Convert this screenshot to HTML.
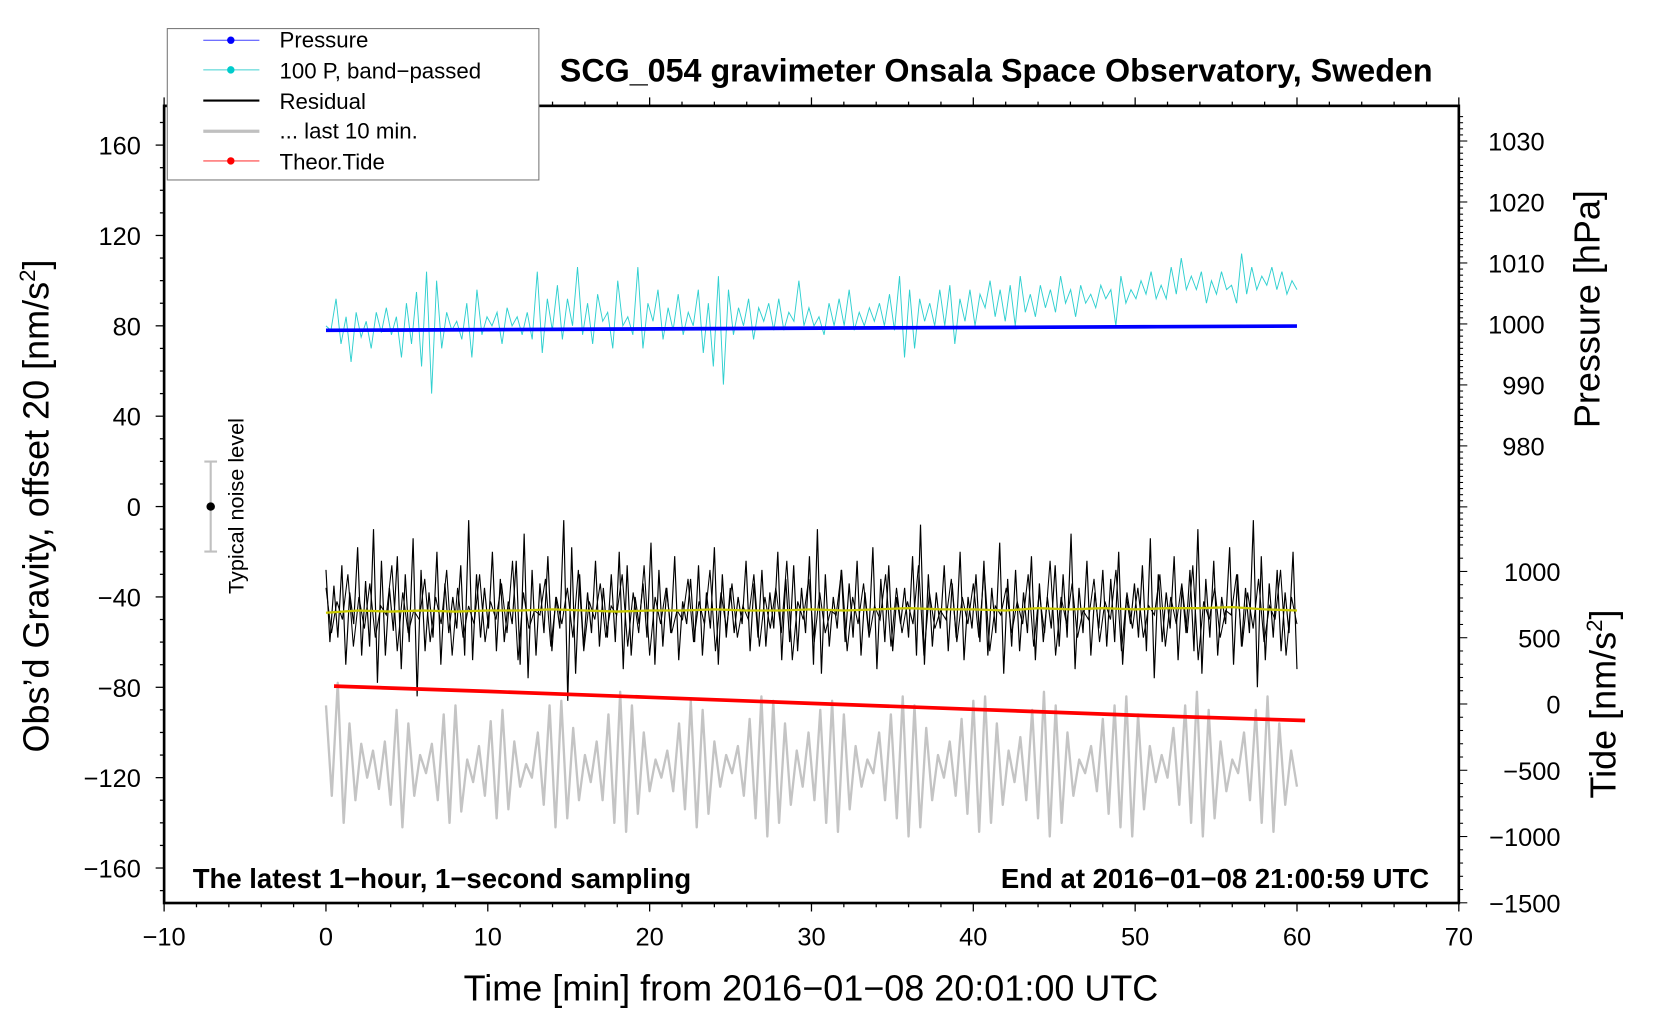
<!DOCTYPE html>
<html><head><meta charset="utf-8"><title>SCG_054 gravimeter</title>
<style>html,body{margin:0;padding:0;background:#fff}svg{display:block}text{font-family:"Liberation Sans",sans-serif}</style>
</head><body>
<svg id="chart" width="1660" height="1020" viewBox="0 0 1568 963.5" xmlns="http://www.w3.org/2000/svg">
<g id="marks"></g>
<g id="axes"></g>
<rect x="158" y="27" width="351" height="143" fill="#fff" stroke="#777" stroke-width="1"/>
<g font-size="21">
 <g><line x1="192" y1="38" x2="245" y2="38" stroke="#4040ff" stroke-width="1"/><circle cx="218" cy="38" r="3.5" fill="#00f"/><text x="264" y="45">Pressure</text></g>
 <g><line x1="192" y1="66" x2="245" y2="66" stroke="#40d0d0" stroke-width="1"/><circle cx="218" cy="66" r="3.5" fill="#0cc"/><text x="264" y="74">100 P, band−passed</text></g>
 <g><line x1="192" y1="95" x2="245" y2="95" stroke="#000" stroke-width="2"/><text x="264" y="103">Residual</text></g>
 <g><line x1="192" y1="124" x2="245" y2="124" stroke="#c0c0c0" stroke-width="3"/><text x="264" y="131">... last 10 min.</text></g>
 <g><line x1="192" y1="152" x2="245" y2="152" stroke="#ff4040" stroke-width="1"/><circle cx="218" cy="152" r="3.5" fill="#f00"/><text x="264" y="160">Theor.Tide</text></g>
</g>
<text x="941" y="77" font-size="30.5" font-weight="bold" text-anchor="middle">SCG_054 gravimeter Onsala Space Observatory, Sweden</text>
<text x="182" y="839" font-size="26" font-weight="bold">The latest 1−hour, 1−second sampling</text>
<text x="1350" y="839" font-size="26" font-weight="bold" text-anchor="end">End at 2016−01−08 21:00:59 UTC</text>
<text x="766" y="945" font-size="34" text-anchor="middle">Time [min] from 2016−01−08 20:01:00 UTC</text>
<text transform="translate(46,478) rotate(-90)" font-size="34" text-anchor="middle">Obs’d Gravity, offset 20 [nm/s<tspan font-size="21" dy="-13">2</tspan><tspan dy="13">]</tspan></text>
<text transform="translate(1511,292) rotate(-90)" font-size="34" text-anchor="middle">Pressure [hPa]</text>
<text transform="translate(1526,665) rotate(-90)" font-size="34" text-anchor="middle">Tide [nm/s<tspan font-size="21" dy="-13">2</tspan><tspan dy="13">]</tspan></text>
<g>
 <line x1="199" y1="436" x2="199" y2="521" stroke="#c0c0c0" stroke-width="2"/>
 <line x1="193" y1="436" x2="205" y2="436" stroke="#c0c0c0" stroke-width="2"/>
 <line x1="193" y1="521" x2="205" y2="521" stroke="#c0c0c0" stroke-width="2"/>
 <circle cx="199" cy="478.5" r="4" fill="#000"/>
 <text transform="translate(230,478) rotate(-90)" font-size="20.5" text-anchor="middle">Typical noise level</text>
</g>
</svg>
<script>
// ---- data ----
const xTicks=[-10,0,10,20,30,40,50,60,70];
const yTicks=[160,120,80,40,0,-40,-80,-120,-160];
const pTicks=[1030,1020,1010,1000,990,980];
const tideTicks=[1000,500,0,-500,-1000,-1500];
const timeStart=0, timeEnd=60;
const pressureHPa=[998.95,999.05,999.15,999.25,999.35,999.45,999.55,999.65];
const bandPassed=[80,78,92,72,84,64,86,75,82,70,86,77,88,76,84,66,90,72,95,62,104,50,100,70,86,78,82,74,90,66,96,76,84,80,86,72,88,80,84,76,86,74,104,68,92,78,98,74,92,80,106,76,90,72,94,82,86,70,100,80,84,76,106,70,90,82,96,74,88,78,94,76,86,80,96,68,90,62,102,54,96,76,88,80,92,74,88,82,90,78,92,78,86,82,100,80,88,80,84,76,90,80,92,80,96,78,86,80,88,82,90,80,94,78,102,66,96,70,92,82,90,80,96,80,98,72,92,82,96,80,94,88,100,84,96,82,98,80,102,86,94,84,98,88,96,86,102,90,96,84,98,90,94,88,98,92,96,80,102,90,96,92,100,94,104,92,98,92,106,94,110,96,102,96,104,90,100,94,104,96,98,90,112,94,106,96,102,98,106,96,104,94,100,96];
const residual=[-28,-60,-35,-58,-26,-70,-38,-52,-18,-66,-33,-62,-10,-78,-24,-66,-36,-55,-22,-72,-30,-60,-14,-84,-28,-64,-38,-58,-20,-70,-34,-56,-40,-54,-26,-66,-6,-68,-30,-58,-36,-54,-20,-64,-32,-60,-42,-52,-24,-70,-12,-76,-28,-66,-34,-56,-22,-64,-40,-54,-6,-86,-18,-74,-30,-62,-38,-56,-24,-62,-36,-58,-30,-60,-20,-72,-26,-66,-40,-52,-34,-58,-16,-70,-28,-62,-36,-56,-22,-68,-42,-52,-32,-60,-26,-66,-38,-54,-18,-70,-30,-58,-36,-56,-40,-52,-24,-64,-34,-58,-28,-62,-38,-54,-20,-68,-32,-60,-26,-64,-36,-56,-22,-70,-10,-74,-30,-62,-40,-54,-28,-60,-34,-58,-24,-66,-38,-56,-18,-72,-32,-60,-26,-64,-40,-52,-36,-58,-22,-66,-8,-70,-30,-62,-38,-54,-26,-64,-34,-58,-20,-68,-40,-54,-30,-60,-24,-66,-36,-56,-16,-74,-32,-62,-28,-64,-38,-56,-22,-68,-34,-60,-40,-54,-26,-62,-30,-58,-12,-72,-36,-56,-24,-66,-38,-54,-28,-62,-32,-60,-20,-70,-40,-52,-34,-58,-26,-64,-14,-76,-30,-60,-38,-54,-22,-68,-36,-56,-28,-64,-10,-74,-32,-58,-24,-66,-40,-52,-18,-70,-30,-62,-36,-56,-6,-80,-22,-68,-34,-58,-28,-64,-38,-56,-20,-72];
const residualFine=[-36,-56,-42,-50,-30,-62,-40,-54,-34,-58,-44,-48,-26,-64,-38,-56,-46,-50,-32,-60,-40,-52,-28,-66,-36,-58,-44,-52,-30,-60,-42,-50,-34,-56,-24,-68,-38,-54,-46,-48,-32,-62,-40,-52,-36,-58,-28,-64,-42,-50,-34,-58,-44,-48,-30,-62,-38,-56,-26,-66,-40,-52,-36,-56,-46,-50,-32,-60,-42,-52,-28,-64,-38,-54,-34,-58,-44,-50,-30,-62,-40,-54,-36,-56,-24,-68,-42,-50,-32,-60,-38,-56,-46,-48,-28,-64,-40,-52,-34,-58,-44,-50,-30,-62,-36,-56,-42,-52,-26,-66,-38,-54,-46,-50,-32,-60,-40,-52,-34,-58,-28,-64,-44,-48,-36,-56,-42,-52,-30,-62,-38,-56,-24,-66,-40,-52,-34,-58,-46,-50,-32,-60,-42,-50,-28,-64,-38,-54,-36,-58,-44,-48,-30,-62,-40,-52,-34,-56,-26,-68,-42,-50,-36,-58,-46,-48,-30,-62,-38,-54,-32,-60,-44,-50,-28,-66,-40,-52];
const residualSmooth=[-47,-46,-46.5,-46,-46.5,-46,-46,-45.5,-46,-46.5,-46,-46,-45.5,-46,-46,-45.5,-46,-45.5,-45,-45.5,-45.5,-46,-45,-45.5,-45,-45.5,-45,-45,-44.5,-45.5,-46];
const lastTenMin=[-88,-128,-78,-140,-96,-130,-105,-120,-108,-125,-104,-132,-90,-142,-96,-128,-110,-118,-105,-130,-92,-140,-88,-135,-112,-122,-106,-128,-95,-138,-90,-134,-104,-124,-114,-120,-100,-132,-88,-142,-86,-138,-98,-130,-110,-122,-104,-130,-92,-140,-82,-144,-88,-136,-100,-126,-112,-120,-108,-126,-96,-134,-86,-142,-90,-136,-104,-124,-110,-118,-106,-128,-94,-138,-84,-146,-86,-140,-96,-132,-108,-124,-100,-130,-90,-140,-86,-144,-92,-134,-106,-124,-112,-118,-100,-130,-92,-138,-84,-146,-88,-142,-98,-130,-110,-120,-104,-128,-94,-136,-86,-144,-84,-140,-96,-132,-108,-122,-102,-130,-90,-138,-82,-146,-88,-140,-100,-128,-112,-118,-106,-126,-94,-136,-88,-142,-84,-146,-92,-134,-106,-122,-110,-120,-98,-132,-88,-140,-82,-146,-90,-138,-104,-126,-112,-118,-100,-130,-90,-140,-84,-144,-96,-132,-108,-124];
const tideT=[0.5,10,20,30,40,50,60.5];
const tideVal=[135,95,50,5,-40,-85,-125];

// ---- scales ----
const X0=155,X1=1378,Y0=100,Y1=853;
const xs=t=>X0+(t+10)/80*(X1-X0);
const ys=v=>478.5-v*2.134;
const ps=p=>306-(p-1000)*5.76;
const ts=v=>665-v*0.1252;
const NS="http://www.w3.org/2000/svg";
const marks=document.getElementById('marks'), axes=document.getElementById('axes');
function mk(tag,attrs,parent){const e=document.createElementNS(NS,tag);for(const k in attrs)e.setAttribute(k,attrs[k]);parent.appendChild(e);return e;}
function series(arr,f){return arr.map((v,i)=>xs(timeStart+i/(arr.length-1)*(timeEnd-timeStart)).toFixed(1)+','+f(v).toFixed(1)).join(' ');}

let e;
e=mk('polyline',{points:series(lastTenMin,ys),fill:'none',stroke:'#c4c4c4','stroke-width':2.2,'stroke-linejoin':'round'},marks);


e=mk('polyline',{points:series(bandPassed,ys),fill:'none',stroke:'#30d0d0','stroke-width':0.9},marks);


e=mk('polyline',{points:series(pressureHPa,ps),fill:'none',stroke:'#0000ff','stroke-width':3.5},marks);


e=mk('polyline',{points:series(residualFine,ys),fill:'none',stroke:'#000','stroke-width':1},marks);


e=mk('polyline',{points:series(residual,ys),fill:'none',stroke:'#000','stroke-width':1.1},marks);


e=mk('polyline',{points:series(residualSmooth,ys),fill:'none',stroke:'#c8c800','stroke-width':2.2},marks);


e=mk('polyline',{points:tideT.map((t,i)=>xs(t).toFixed(1)+','+ts(tideVal[i]).toFixed(1)).join(' '),fill:'none',stroke:'#ff0000','stroke-width':3.5},marks);



// frame
e=mk('rect',{x:X0,y:Y0,width:X1-X0,height:Y1-Y0,fill:'none',stroke:'#000','stroke-width':2.5},axes);


for(let t=-10;t<=70;t+=2){const L=t%10===0?8:4;mk('line',{x1:xs(t),y1:Y1,x2:xs(t),y2:Y1+L,stroke:'#000','stroke-width':1.2},axes);mk('line',{x1:xs(t),y1:Y0,x2:xs(t),y2:Y0-L,stroke:'#000','stroke-width':1.2},axes);}
xTicks.forEach(t=>{e=mk('text',{x:xs(t),y:893,'font-size':24,'text-anchor':'middle'},axes);e.textContent=String(t).replace('-','−');

});
for(let v=-170;v<=170;v+=10){const L=v%40===0?8:4;mk('line',{x1:X0,y1:ys(v),x2:X0-L,y2:ys(v),stroke:'#000','stroke-width':1.2},axes);}
yTicks.forEach(v=>{e=mk('text',{x:133,y:ys(v)+9,'font-size':24,'text-anchor':'end'},axes);e.textContent=String(v).replace('-','−');

});
for(let p=965;p<=1034;p+=1){const L=p%10===0?8:4;mk('line',{x1:X1,y1:ps(p),x2:X1+L,y2:ps(p),stroke:'#000','stroke-width':1},axes);}
pTicks.forEach(p=>{e=mk('text',{x:1459,y:ps(p)+9,'font-size':24,'text-anchor':'end'},axes);e.textContent=String(p);

});
for(let v=-1500;v<=1200;v+=100){const L=v%500===0?8:4;mk('line',{x1:X1,y1:ts(v),x2:X1+L,y2:ts(v),stroke:'#000','stroke-width':1},axes);}
tideTicks.forEach(v=>{e=mk('text',{x:1474,y:ts(v)+9,'font-size':24,'text-anchor':'end'},axes);e.textContent=String(v).replace('-','−');

});
</script>
</body></html>
